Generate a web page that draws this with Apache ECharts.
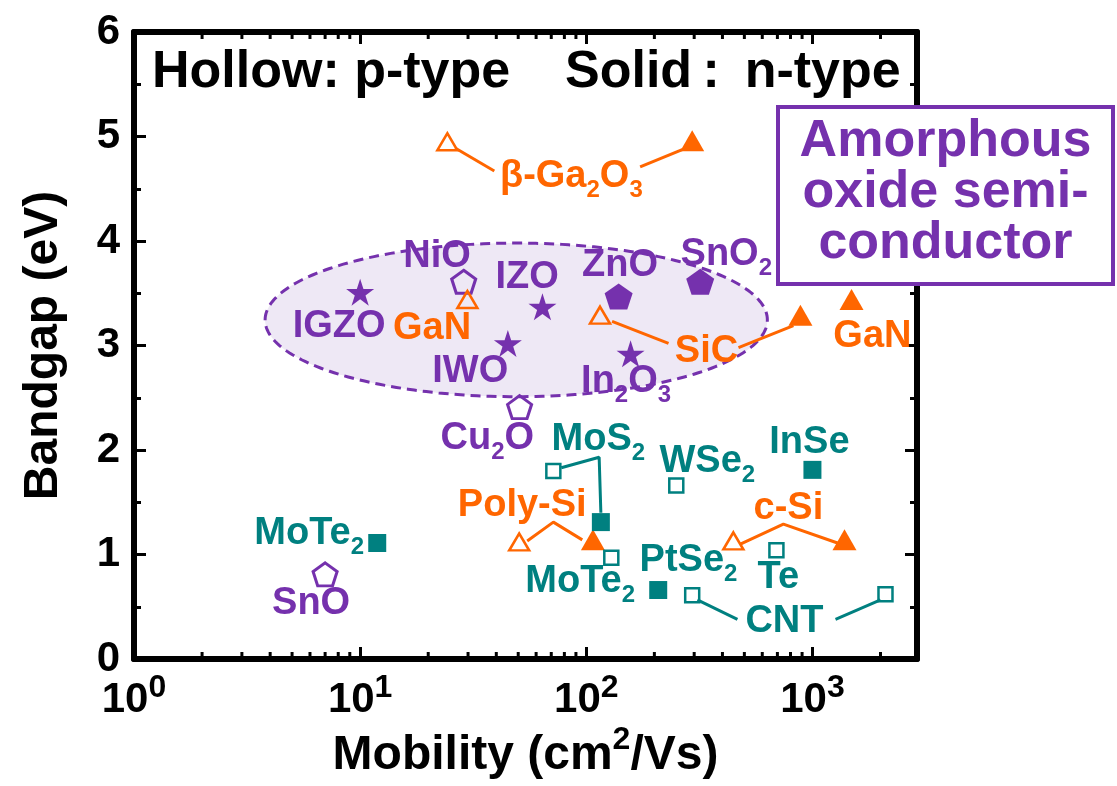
<!DOCTYPE html>
<html>
<head>
<meta charset="utf-8">
<script src="https://cdn.jsdelivr.net/npm/echarts@6/dist/echarts.min.js"></script>
<style>
  html, body { margin: 0; padding: 0; background: #fff; }
  #chart { width: 1117px; height: 786px; }
</style>
</head>
<body>
<div id="chart"></div>
<script>
// Field-effect mobility (cm^2/Vs) against bandgap (eV) for common channel materials.
// Solid symbols are n-type, hollow symbols p-type.

// Amorphous oxides (solid stars, n-type)
const starNames = ['IGZO', 'IZO', 'IWO', 'In2O3'];
const starMobility = [10, 64, 45, 157];
const starBandgap = [3.51, 3.37, 3.02, 2.92];

// Crystalline n-type oxides (solid pentagons)
const nPentNames = ['ZnO', 'SnO2'];
const nPentMobility = [139, 319];
const nPentBandgap = [3.47, 3.61];

// p-type oxides (hollow pentagons)
const pPentNames = ['NiO', 'Cu2O', 'SnO'];
const pPentMobility = [28.7, 50.7, 7.0];
const pPentBandgap = [3.61, 2.41, 0.81];

// Conventional semiconductors, p-type (hollow triangles)
const pTriNames = ['β-Ga2O3', 'GaN', 'SiC', 'Poly-Si', 'c-Si'];
const pTriMobility = [24.3, 29.8, 115, 50.5, 447];
const pTriBandgap = [4.95, 3.44, 3.29, 1.12, 1.13];

// Conventional semiconductors, n-type (solid triangles)
const nTriNames = ['β-Ga2O3', 'SiC', 'GaN', 'Poly-Si', 'c-Si'];
const nTriMobility = [294, 885, 1489, 107, 1386];
const nTriBandgap = [4.96, 3.29, 3.44, 1.14, 1.14];

// 2D / low-dimensional materials, n-type (solid squares)
const nSqNames = ['MoTe2', 'MoS2', 'PtSe2', 'InSe'];
const nSqMobility = [11.9, 116, 208, 1000];
const nSqBandgap = [1.11, 1.31, 0.66, 1.81];

// 2D / low-dimensional materials, p-type (hollow squares)
const pSqNames = ['MoS2', 'MoTe2', 'WSe2', 'Te', 'CNT', 'CNT'];
const pSqMobility = [71.5, 129, 250, 693, 294, 2104];
const pSqBandgap = [1.80, 0.97, 1.66, 1.04, 0.61, 0.62];

// Axis ranges and tick labels
const xMin = 1, xMax = 2900;
const yMin = 0, yMax = 6;
const xTickValues = [1, 10, 100, 1000];
const xTickExponents = ['0', '1', '2', '3'];

// Material name labels ("_2" marks a subscript), anchored in data units
const labelTexts = ['β-Ga_2O_3', 'NiO', 'IZO', 'ZnO', 'SnO_2', 'IGZO', 'GaN', 'IWO', 'In_2O_3', 'SiC', 'GaN',
                    'Cu_2O', 'MoS_2', 'Poly-Si', 'MoTe_2', 'SnO', 'MoTe_2', 'WSe_2', 'InSe', 'c-Si', 'PtSe_2', 'Te', 'CNT'];
const labelColorKeys = ['o', 'p', 'p', 'p', 'p', 'p', 'o', 'p', 'p', 'o', 'o',
                        'p', 't', 'o', 't', 'p', 't', 't', 't', 'o', 't', 't', 't'];
const labelAnchors = [[85.9, 4.62], [21.9, 3.85], [54.8, 3.65], [141, 3.77], [416, 3.87], [8.07, 3.18], [20.8, 3.16],
                      [30.7, 2.75], [150, 2.66], [340, 2.94], [1842, 3.09], [36.5, 2.11], [113, 2.10], [52.1, 1.47],
                      [5.95, 1.20], [6.07, 0.53], [94, 0.74], [343, 1.89], [970, 2.07], [783, 1.44], [283, 0.94],
                      [707, 0.775], [752, 0.355]];

// Leader lines tying paired points to their shared label
const leaderPaths = [
  [[26.3, 4.89], [39.2, 4.67]],
  [[173, 4.71], [269, 4.88]],
  [[130, 3.23], [231, 3.02]],
  [[471, 2.98], [824, 3.19]],
  [[77.5, 1.83], [114, 1.93], [116, 1.40]],
  [[54.8, 1.13], [71.5, 1.31], [96, 1.14]],
  [[480, 1.10], [744, 1.29], [1291, 1.11]],
  [[310, 0.565], [466, 0.38]],
  [[1265, 0.38], [2000, 0.565]]
];
const leaderColorKeys = ['o', 'o', 'o', 'o', 't', 'o', 'o', 't', 't'];

// Extent of the amorphous-oxide region (mobility range, bandgap range)
const ovalMobility = [3.8, 632];
const ovalBandgap = [2.51, 3.98];

const FONT = '"Liberation Sans", Arial, sans-serif';
const PURPLE = '#7531AD';
const ORANGE = '#FF6600';
const TEAL = '#008080';
const palette = { p: PURPLE, o: ORANGE, t: TEAL };

const STAR = 'path://M0,-1L0.2245,-0.309L0.951,-0.309L0.3633,0.118L0.5878,0.809L0,0.382L-0.5878,0.809L-0.3633,0.118L-0.951,-0.309L-0.2245,-0.309Z';
const PENTAGON = 'path://M0,-1L0.951,-0.309L0.5878,0.809L-0.5878,0.809L-0.951,-0.309Z';
const HOLLOW = 'rgba(255,255,255,0)';

function pairs(xs, ys) { return xs.map((x, i) => [x, ys[i]]); }

function richText(s) {
  return s.split(/(_\d)/).filter(Boolean)
    .map(part => part[0] === '_' ? '{s|' + part.slice(1) + '}' : '{m|' + part + '}')
    .join('');
}

const xMinorTicks = [];
for (let e = 0; e < 4; e++) {
  for (let m = 2; m < 10; m++) {
    const v = m * Math.pow(10, e);
    if (v < xMax) xMinorTicks.push(v);
  }
}

function markerSeries(name, xs, ys, symbol, size, color, hollow) {
  return {
    name: name,
    type: 'scatter',
    data: pairs(xs, ys),
    symbol: symbol,
    symbolSize: size,
    silent: true,
    z: 4,
    itemStyle: hollow
      ? { color: HOLLOW, borderColor: color, borderWidth: hollow, opacity: 1 }
      : { color: color, opacity: 1 }
  };
}

const axisLineStyle = { color: '#000', width: 6 };

const chart = echarts.init(document.getElementById('chart'), null, { renderer: 'canvas' });

chart.setOption({
  animation: false,
  backgroundColor: '#fff',
  grid: { left: 134, right: 200, top: 32, bottom: 127, containLabel: false, outerBoundsMode: 'none' },
  xAxis: [
    {
      type: 'log', logBase: 10, min: xMin, max: xMax, position: 'bottom',
      name: '{t|Mobility (cm}{p|2}{t|/Vs)}',
      nameLocation: 'middle', nameGap: 72, nameMoveOverlap: false,
      nameTextStyle: {
        rich: {
          t: { fontFamily: FONT, fontWeight: 'bold', fontSize: 48, lineHeight: 50, color: '#000' },
          p: { fontFamily: FONT, fontWeight: 'bold', fontSize: 32, height: 18, lineHeight: 18, verticalAlign: 'top', color: '#000' }
        }
      },
      axisLine: { show: true, onZero: false, lineStyle: axisLineStyle },
      axisTick: { show: true, inside: true, length: 12, lineStyle: { color: '#000', width: 3 } },
      minorTick: { show: false },
      splitLine: { show: false },
      axisLabel: {
        show: true, margin: 19, showMaxLabel: false,
        formatter: function (v) {
          const i = xTickValues.findIndex(t => Math.abs(t - v) / t < 1e-6);
          return i < 0 ? '' : '{b|10}{p|' + xTickExponents[i] + '}';
        },
        rich: {
          b: { fontFamily: FONT, fontWeight: 'bold', fontSize: 42, lineHeight: 44, color: '#000' },
          p: { fontFamily: FONT, fontWeight: 'bold', fontSize: 32, height: 20, lineHeight: 20, verticalAlign: 'top', color: '#000' }
        }
      }
    },
    {
      type: 'log', logBase: 10, min: xMin, max: xMax, position: 'top',
      axisLine: { show: true, onZero: false, lineStyle: axisLineStyle },
      axisTick: { show: true, inside: true, length: 12, lineStyle: { color: '#000', width: 3 } },
      axisLabel: { show: false },
      splitLine: { show: false }
    }
  ],
  yAxis: [
    {
      type: 'value', min: yMin, max: yMax, interval: 1, position: 'left',
      name: 'Bandgap (eV)', nameLocation: 'middle', nameGap: 66, nameMoveOverlap: false,
      nameTextStyle: { fontFamily: FONT, fontWeight: 'bold', fontSize: 48, color: '#000' },
      axisLine: { show: true, onZero: false, lineStyle: axisLineStyle },
      axisTick: { show: true, inside: true, length: 12, lineStyle: { color: '#000', width: 3 } },
      minorTick: { show: true, splitNumber: 2, length: 7, lineStyle: { color: '#000', width: 3 } },
      splitLine: { show: false },
      axisLabel: { show: true, margin: 14, fontFamily: FONT, fontWeight: 'bold', fontSize: 42, color: '#000' }
    },
    {
      type: 'value', min: yMin, max: yMax, interval: 1, position: 'right',
      axisLine: { show: true, onZero: false, lineStyle: axisLineStyle },
      axisTick: { show: true, inside: true, length: 12, lineStyle: { color: '#000', width: 3 } },
      minorTick: { show: true, splitNumber: 2, length: 7, lineStyle: { color: '#000', width: 3 } },
      splitLine: { show: false },
      axisLabel: { show: false }
    }
  ],
  series: [
    // Amorphous-oxide region
    {
      type: 'custom', z: 1, silent: true, clip: false,
      data: [[Math.sqrt(ovalMobility[0] * ovalMobility[1]), (ovalBandgap[0] + ovalBandgap[1]) / 2]],
      renderItem: function (params, api) {
        const cxv = api.value(0), cyv = api.value(1);
        const left = api.coord([ovalMobility[0], cyv])[0];
        const right = api.coord([ovalMobility[1], cyv])[0];
        const top = api.coord([cxv, ovalBandgap[1]])[1];
        const bottom = api.coord([cxv, ovalBandgap[0]])[1];
        const cx = (left + right) / 2, cy = (top + bottom) / 2;
        const rx = (right - left) / 2, ry = (bottom - top) / 2;
        const points = [];
        for (let k = 0; k < 240; k++) {
          const a = Math.PI + k / 240 * 2 * Math.PI;
          points.push([cx + rx * Math.cos(a), cy + ry * Math.sin(a)]);
        }
        return {
          type: 'polygon', shape: { points: points },
          style: { fill: '#EEE8F5', stroke: PURPLE, lineWidth: 3, lineDash: [10, 6] }
        };
      }
    },
    // Minor ticks of the logarithmic mobility axis (bottom and top)
    {
      type: 'custom', z: 6, silent: true, clip: false,
      data: xMinorTicks.map(v => [v, yMin]),
      renderItem: function (params, api) {
        const v = api.value(0);
        const b = api.coord([v, yMin]);
        const t = api.coord([v, yMax]);
        const st = { stroke: '#000', lineWidth: 3 };
        return {
          type: 'group',
          children: [
            { type: 'line', shape: { x1: b[0], y1: b[1], x2: b[0], y2: b[1] - 7 }, style: st },
            { type: 'line', shape: { x1: t[0], y1: t[1], x2: t[0], y2: t[1] + 7 }, style: st }
          ]
        };
      }
    }
  ].concat(
    leaderPaths.map((path, i) => ({
      type: 'line', data: path, symbol: 'none', silent: true, z: 3,
      lineStyle: { color: palette[leaderColorKeys[i]], width: 3, opacity: 1 }
    })),
    [
      markerSeries('stars', starMobility, starBandgap, STAR, [28, 27], PURPLE, 0),
      markerSeries('n-pentagons', nPentMobility, nPentBandgap, PENTAGON, [28, 26], PURPLE, 0),
      markerSeries('p-pentagons', pPentMobility, pPentBandgap, PENTAGON, [24, 23], PURPLE, 3),
      markerSeries('p-triangles', pTriMobility, pTriBandgap, 'triangle', [20, 17], ORANGE, 2.5),
      markerSeries('n-triangles', nTriMobility, nTriBandgap, 'triangle', [24, 21], ORANGE, 0),
      markerSeries('n-squares', nSqMobility, nSqBandgap, 'rect', [18, 18], TEAL, 0),
      markerSeries('p-squares', pSqMobility, pSqBandgap, 'rect', [14, 14], TEAL, 2.5),
      {
        type: 'scatter', silent: true, z: 5, symbolSize: 0,
        itemStyle: { opacity: 1 },
        data: labelTexts.map((t, i) => ({
          value: labelAnchors[i], name: t,
          label: { color: palette[labelColorKeys[i]] }
        })),
        label: {
          show: true, position: 'inside', opacity: 1,
          formatter: p => richText(p.name),
          rich: {
            m: { fontFamily: FONT, fontWeight: 'bold', fontSize: 38, lineHeight: 40 },
            s: { fontFamily: FONT, fontWeight: 'bold', fontSize: 24, height: 12, lineHeight: 12, verticalAlign: 'bottom' }
          }
        }
      }
    ]
  ),
  graphic: [
    {
      type: 'text', x: 152, y: 73, z: 50,
      style: { text: 'Hollow: p-type', fontFamily: FONT, fontWeight: 'bold', fontSize: 52, fill: '#000', verticalAlign: 'middle' }
    },
    {
      type: 'text', x: 565, y: 73, z: 50,
      style: { text: 'Solid\u2009: \u2009n-type', fontFamily: FONT, fontWeight: 'bold', fontSize: 52, fill: '#000', verticalAlign: 'middle' }
    },
    {
      type: 'rect', z: 100,
      shape: { x: 778, y: 107, width: 335, height: 177 },
      style: { fill: '#fff', stroke: PURPLE, lineWidth: 4 }
    },
    {
      type: 'text', x: 945.5, y: 193, z: 101,
      style: {
        text: 'Amorphous\noxide semi-\nconductor', fontFamily: FONT, fontWeight: 'bold', fontSize: 52,
        lineHeight: 51, fill: PURPLE, align: 'center', verticalAlign: 'middle'
      }
    }
  ]
});
</script>
</body>
</html>
